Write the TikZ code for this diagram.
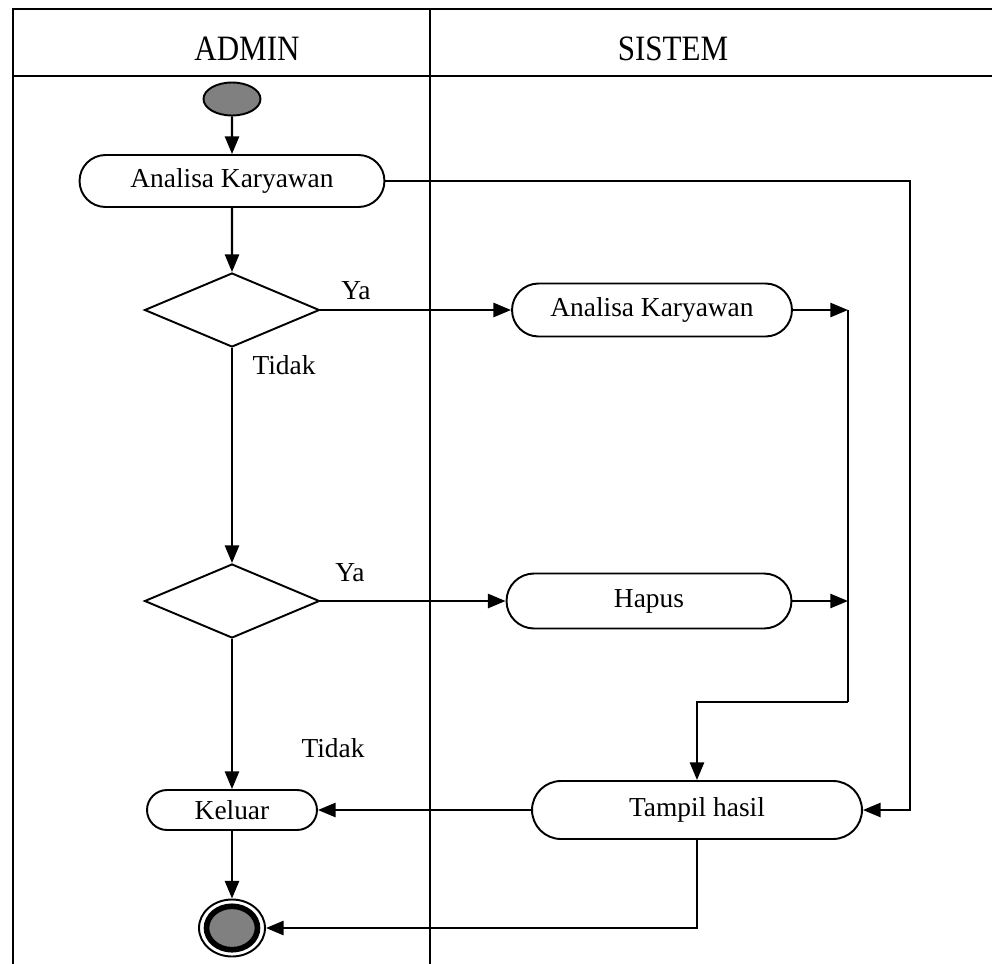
\documentclass[tikz,border=0pt]{standalone}
\usepackage{fontspec}
\setmainfont{Liberation Serif}
\usepackage{graphicx}
\usepackage{tikz}
\usetikzlibrary{arrows.meta,calc,positioning,shapes.geometric,shapes.misc}
\definecolor{abuabu}{rgb}{0.5,0.5,0.5}
\tikzset{
  aktivitas/.style={
    rounded rectangle,
    draw=black,
    line width=1.1pt,
    fill=white,
    align=center,
    inner sep=0pt,
    font=\fontsize{15.6}{18}\selectfont
  },
  keputusan/.style={
    diamond,
    draw=black,
    line width=1.1pt,
    fill=white,
    inner sep=0pt,
    minimum width=3.5cm,
    minimum height=1.48cm
  },
  awal/.style={
    ellipse,
    draw=black,
    line width=1.1pt,
    fill=abuabu,
    inner sep=0pt,
    minimum width=1.14cm,
    minimum height=.66cm
  },
  akhirluar/.style={
    ellipse,
    draw=black,
    line width=1.1pt,
    fill=white,
    inner sep=0pt,
    minimum width=1.32cm,
    minimum height=1.14cm
  },
  akhirdalam/.style={
    ellipse,
    draw=black,
    line width=3.2pt,
    fill=abuabu,
    inner sep=0pt,
    minimum width=1.02cm,
    minimum height=.87cm
  },
  keterangan/.style={
    anchor=base,
    inner sep=0pt,
    font=\fontsize{15.6}{18}\selectfont
  },
  judul/.style={
    anchor=base,
    inner sep=0pt,
    font=\fontsize{20.3}{24}\selectfont
  },
  garis/.style={line width=1.1pt},
  panah/.style={
    -{Triangle[length=10pt,width=8pt]},
    line width=1.3pt
  }
}

\begin{document}
\begin{tikzpicture}[x=0.02cm,y=-0.02cm]
\useasboundingbox (0,0) rectangle (992,964);
% swimlane
\draw[garis] (13,964) -- (13,9) -- (992,9);
\draw[garis] (13,76) -- (992,76);
\draw[garis] (430,9) -- (430,964);
\node[judul] (admin) at (247,60) {\scalebox{0.87}[1]{ADMIN}};
\node[judul] (sistem) at (673,60) {\scalebox{0.87}[1]{SISTEM}};

% node
\node[awal] (mulai) at (232,99) {};
\node[aktivitas,minimum width=6.1cm,minimum height=1.04cm] (analisa1) at (232,181) {Analisa Karyawan};
\node[keputusan] (pilih1) at (232,310) {};
\node[aktivitas,minimum width=5.6cm,minimum height=1.06cm] (analisa2) at (652,310) {Analisa Karyawan};
\node[keputusan] (pilih2) at (232,601) {};
\node[aktivitas,minimum width=5.7cm,minimum height=1.1cm] (hapus) at (649,601) {Hapus};
\node[aktivitas,minimum width=3.4cm,minimum height=.8cm] (keluar) at (232,810) {Keluar};
\node[aktivitas,minimum width=6.6cm,minimum height=1.16cm] (tampil) at (697,810) {Tampil hasil};
\node[akhirluar] (selesai) at (232,928) {};
\node[akhirdalam] (selesai2) at (selesai) {};

\coordinate (kanan) at (910,181);
\coordinate (gabung1) at (848,310);
\coordinate (gabung2) at (848,601);
\coordinate (belok) at (848,702);

% alur
\draw[panah] (mulai) -- (analisa1);
\draw[panah] (analisa1) -- (pilih1);
\draw[panah] (pilih1.east) -- (analisa2.west);
\draw[panah] (pilih1.south) -- (pilih2.north);
\draw[panah] (analisa1.east) -- (kanan) |- (tampil.east);
\draw[panah] (analisa2.east) -- (gabung1);
\draw[garis,line width=1.3pt] (gabung1) -- (belok);
\draw[panah] (belok) -| (tampil.north);
\draw[panah] (pilih2.east) -- (hapus.west);
\draw[panah] (hapus.east) -- (gabung2);
\draw[panah] (pilih2.south) -- (keluar.north);
\draw[panah] (tampil.west) -- (keluar.east);
\draw[panah] (keluar.south) -- (selesai.north);
\draw[panah] (tampil.south) |- (selesai.east);

\node[keterangan] (ya1) at (356,299) {Ya};
\node[keterangan] (tidak1) at (284,374) {Tidak};
\node[keterangan] (ya2) at (350,581) {Ya};
\node[keterangan] (tidak2) at (333,757) {Tidak};
\end{tikzpicture}
\end{document}
